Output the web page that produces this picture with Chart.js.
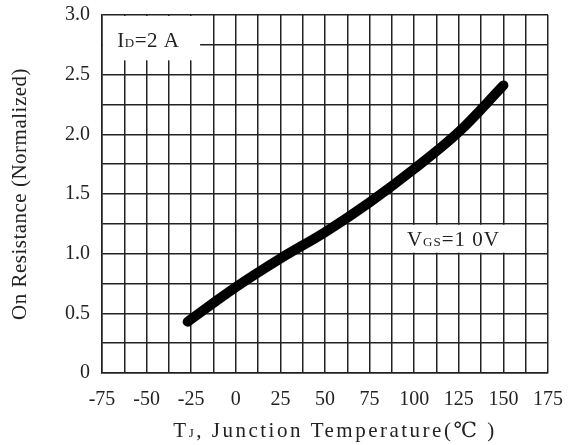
<!DOCTYPE html>
<html>
<head>
<meta charset="utf-8">
<script src="https://cdn.jsdelivr.net/npm/chart.js@4.4.1/dist/chart.umd.min.js"></script>
<style>
  html, body { margin: 0; padding: 0; background: #fff; }
  canvas { display: block; }
</style>
</head>
<body>
<canvas id="chart" width="568" height="445"></canvas>
<script>
// On-resistance vs. junction temperature, ID = 2 A, VGS = 10 V
const temps = [-27, 0, 25, 50, 75, 100, 125, 150];
const rdsOn = [0.43, 0.72, 0.96, 1.18, 1.43, 1.71, 2.02, 2.41];

const xTickLabels = ['-75', '-50', '-25', '0', '25', '50', '75', '100', '125', '150', '175'];
const yTickLabels = ['0', '0.5', '1.0', '1.5', '2.0', '2.5', '3.0'];

const SERIF = '"Liberation Serif", "DejaVu Serif", serif';
const INK = '#222';

// draws a run of text pieces with mixed sizes on one baseline, centred on x
function drawRuns(ctx, runs, x, y, spacing) {
	ctx.letterSpacing = (spacing || 0) + 'px';
	let w = 0;
	runs.forEach(r => {
		ctx.font = r.size + 'px ' + SERIF;
		w += ctx.measureText(r.t).width;
	});
	let cx = x - w / 2;
	ctx.textAlign = 'left';
	ctx.textBaseline = 'alphabetic';
	runs.forEach(r => {
		ctx.font = r.size + 'px ' + SERIF;
		ctx.fillText(r.t, cx, y);
		cx += ctx.measureText(r.t).width;
	});
	ctx.letterSpacing = '0px';
}

const notes = {
	id: 'notes',
	beforeDatasetsDraw(chart) {
		const ctx = chart.ctx;
		const xs = chart.scales.x, ys = chart.scales.y;
		ctx.save();
		ctx.fillStyle = '#fff';
		//ID label box (top left corner)
		let l = xs.getPixelForValue(-75) + 1, r = xs.getPixelForValue(-20);
		let t = ys.getPixelForValue(3.0) + 1, b = ys.getPixelForValue(2.62);
		ctx.fillRect(l, t, r - l, b - t);
		//VGS label box
		l = xs.getPixelForValue(87.5) + 1; r = xs.getPixelForValue(162.5) - 1;
		t = ys.getPixelForValue(1.25) + 1; b = ys.getPixelForValue(1.0) - 1;
		ctx.fillRect(l, t, r - l, b - t);

		ctx.fillStyle = INK;
		drawRuns(ctx, [{t: 'I', size: 21}, {t: 'D', size: 13}, {t: '=2 A', size: 21}],
			xs.getPixelForValue(-49), ys.getPixelForValue(2.73), 0.5);
		drawRuns(ctx, [{t: 'V', size: 21}, {t: 'GS', size: 13}, {t: '=1 0V', size: 21}],
			xs.getPixelForValue(122), ys.getPixelForValue(1.065), 1);
		ctx.restore();
	},
	afterDraw(chart) {
		const ctx = chart.ctx;
		const a = chart.chartArea;
		ctx.save();
		ctx.fillStyle = INK;
		drawRuns(ctx, [{t: 'T', size: 21}, {t: 'J', size: 13}, {t: ', Junction Temperature(℃ )', size: 21}],
			335, 437, 2.5);
		ctx.translate(20, (a.top + a.bottom) / 2);
		ctx.rotate(-Math.PI / 2);
		ctx.font = '21px ' + SERIF;
		ctx.letterSpacing = '0.5px';
		ctx.textAlign = 'center';
		ctx.textBaseline = 'middle';
		ctx.fillText('On Resistance (Normalized)', 0, 0);
		ctx.restore();
	}
};

new Chart(document.getElementById('chart'), {
	type: 'line',
	data: {
		datasets: [{
			data: temps.map((t, i) => ({x: t, y: rdsOn[i]})),
			borderColor: '#000',
			borderWidth: 10,
			borderCapStyle: 'round',
			borderJoinStyle: 'round',
			pointRadius: 0,
			tension: 0.35,
			fill: false
		}]
	},
	options: {
		responsive: false,
		animation: false,
		layout: { padding: { top: 15, right: 20, left: 0, bottom: 0 } },
		plugins: { legend: { display: false }, tooltip: { enabled: false } },
		scales: {
			x: {
				type: 'linear',
				min: -75, max: 175,
				afterFit: s => { s.height = 72; s.paddingLeft = 0; s.paddingRight = 0; },
				grid: { color: INK, lineWidth: 1.5, drawTicks: false },
				border: { color: INK, width: 1.5 },
				ticks: {
					stepSize: 12.5, autoSkip: false, maxRotation: 0, padding: 15,
					color: INK, font: { family: SERIF, size: 20 },
					callback: v => (v % 25 === 0 ? xTickLabels[(v + 75) / 25] : '')
				}
			},
			y: {
				min: 0, max: 3,
				afterFit: s => { s.width = 102; s.paddingTop = 0; s.paddingBottom = 0; },
				grid: { color: INK, lineWidth: 1.5, drawTicks: false },
				border: { color: INK, width: 1.5 },
				ticks: {
					stepSize: 0.25, autoSkip: false, padding: 12,
					color: INK, font: { family: SERIF, size: 20 },
					callback: v => (Math.abs(v * 2 - Math.round(v * 2)) < 1e-6 ? yTickLabels[Math.round(v * 2)] : '')
				}
			}
		}
	},
	plugins: [notes]
});
</script>
</body>
</html>
